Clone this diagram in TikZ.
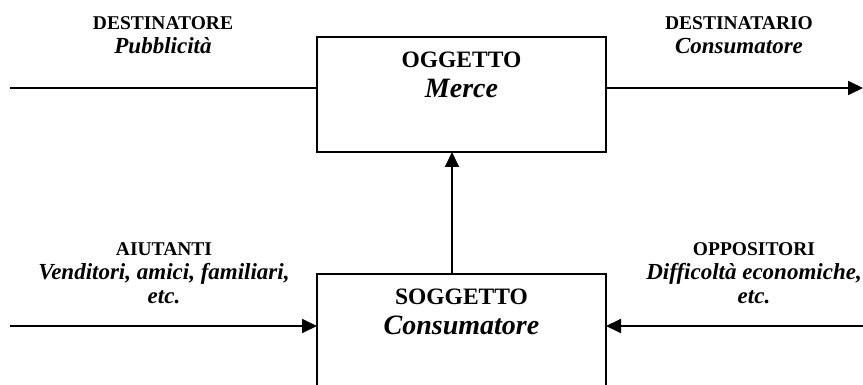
\documentclass[tikz,border=0pt]{standalone}
\usepackage{fontspec}
\setmainfont{Liberation Serif}
\usetikzlibrary{arrows.meta}
\tikzset{
  x=1pt, y=1pt,
  box/.style={draw, line width=1.9pt, minimum width=289pt, minimum height=115pt, inner sep=0pt, outer sep=0pt},
  link/.style={line width=1.9pt},
  tip/.style={-{Triangle[length=15pt,width=14pt]}},
  rolelabel/.style={align=center, anchor=north, inner sep=0pt, font=\fontsize{19.5}{24}\selectfont\bfseries},
  boxlabel/.style={align=center, anchor=north, inner sep=0pt, font=\fontsize{23.5}{30.5}\selectfont\bfseries},
}
\newcommand{\roleactor}[1]{{\fontsize{23}{24}\selectfont\bfseries\itshape #1}}
\newcommand{\boxactor}[1]{{\fontsize{28}{30.5}\selectfont\bfseries\itshape #1}}
\begin{document}
\begin{tikzpicture}
  \useasboundingbox (0,0) rectangle (863,385);
  \clip (0,0) rectangle (863,385);

  % actant boxes
  \node[box] (ogg) at (461.5,290.5) {};
  \node[box] (sog) at (461.5,53.5) {};
  \node[boxlabel] (oggtxt) at (461.5,333.6) {OGGETTO\\\boxactor{Merce}};
  \node[boxlabel] (sogtxt) at (461.5,96.6) {SOGGETTO\\\boxactor{Consumatore}};

  % role labels
  \node[rolelabel] (destinatore) at (163,369) {DESTINATORE\\\roleactor{Pubblicità}};
  \node[rolelabel] (destinatario) at (739,369) {DESTINATARIO\\\roleactor{Consumatore}};
  \node[rolelabel] (aiutanti) at (164,143) {AIUTANTI\\\roleactor{Venditori, amici, familiari,}\\\roleactor{etc.}};
  \node[rolelabel] (oppositori) at (754,143) {OPPOSITORI\\\roleactor{Difficoltà economiche,}\\\roleactor{etc.}};

  % free ends of the axes
  \coordinate (dl) at (10,297);
  \coordinate (dr) at (863,297);
  \coordinate (al) at (10,59);
  \coordinate (opr) at (863,59);
  \coordinate (vx) at (452,0);

  % axes
  \draw[link] (dl) -- (dl -| ogg.west);
  \draw[link,tip] (dl -| ogg.east) -- (dr);
  \draw[link,tip] (vx |- sog.north) -- (vx |- ogg.south);
  \draw[link,tip] (al) -- (al -| sog.west);
  \draw[link,tip] (opr) -- (opr -| sog.east);
\end{tikzpicture}
\end{document}
